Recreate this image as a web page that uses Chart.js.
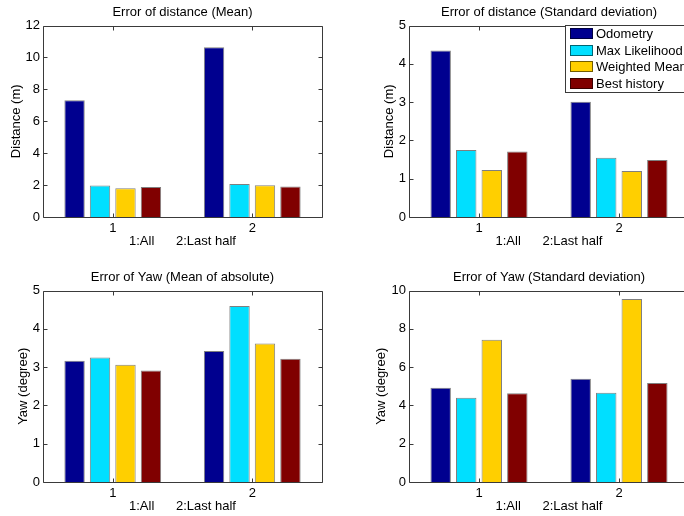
<!DOCTYPE html>
<html>
<head>
<meta charset="utf-8">
<title>Localization error</title>
<script src="https://cdn.jsdelivr.net/npm/chart.js@4.4.1/dist/chart.umd.min.js"></script>
<style>
  html, body { margin: 0; padding: 0; background: #fff; overflow: hidden; }
  #wrap { position: relative; width: 684px; height: 516px; overflow: hidden; }
  #wrap canvas { position: absolute; left: 0; top: 0; }
</style>
</head>
<body>
<div id="wrap">
  <canvas id="distMeanChart" width="700" height="516"></canvas>
  <canvas id="distStdChart" width="700" height="516"></canvas>
  <canvas id="yawMeanChart" width="700" height="516"></canvas>
  <canvas id="yawStdChart" width="700" height="516"></canvas>
</div>
<script>
// x groups and the four estimators
const groups = ['1', '2'];
const methods = ['Odometry', 'Max Likelihood', 'Weighted Mean', 'Best history'];
const methodColors = ['#00008F', '#00DFFF', '#FFCF00', '#800000'];
const xLabel = '1:All      2:Last half';

// one row per method: [all, last half]
const distMean = [[7.32, 10.64], [1.97, 2.07], [1.80, 1.99], [1.88, 1.92]];
const distStd  = [[4.35, 3.01], [1.75, 1.55], [1.23, 1.20], [1.71, 1.49]];
const yawMean  = [[3.17, 3.42], [3.25, 4.60], [3.06, 3.62], [2.91, 3.22]];
const yawStd   = [[4.92, 5.39], [4.40, 4.66], [7.43, 9.56], [4.64, 5.17]];

Chart.defaults.font.family = '"Liberation Sans", Arial, sans-serif';
Chart.defaults.font.size = 13;
Chart.defaults.color = '#000';

const CW = 700, CH = 516;   // canvas size
const yW = 40, xH = 33;     // space kept for the axes

// box around the axes with small inward ticks on every side
const axesBox = {
  id: 'axesBox',
  afterDatasetsDraw(chart) {
    const { ctx, chartArea: a, scales: { x, y } } = chart;
    const t = 4;
    const l = Math.round(a.left) + 0.5, r = Math.round(a.right) + 0.5;
    const top = Math.round(a.top) + 0.5, bot = Math.round(a.bottom) + 0.5;
    ctx.save();
    ctx.strokeStyle = '#3a3a3a';
    ctx.lineWidth = 1;
    ctx.beginPath();
    ctx.rect(l, top, r - l, bot - top);
    y.ticks.forEach((tk, i) => {
      const py = Math.round(y.getPixelForTick(i)) + 0.5;
      ctx.moveTo(l, py); ctx.lineTo(l + t, py);
      ctx.moveTo(r, py); ctx.lineTo(r - t, py);
    });
    x.ticks.forEach((tk, i) => {
      const px = Math.round(x.getPixelForTick(i)) + 0.5;
      ctx.moveTo(px, bot); ctx.lineTo(px, bot - t);
      ctx.moveTo(px, top); ctx.lineTo(px, top + t);
    });
    ctx.stroke();
    ctx.restore();
  }
};

// framed legend in the upper right corner
const boxLegend = {
  id: 'boxLegend',
  afterDraw(chart, args, opts) {
    if (!opts.display) return;
    const ctx = chart.ctx;
    const x0 = opts.x, y0 = opts.y;
    ctx.save();
    ctx.fillStyle = '#fff';
    ctx.fillRect(x0, y0, opts.width, opts.height);
    ctx.strokeStyle = '#3a3a3a';
    ctx.lineWidth = 1;
    ctx.strokeRect(x0 + 0.5, y0 + 0.5, opts.width, opts.height);
    ctx.font = '13px "Liberation Sans", Arial, sans-serif';
    ctx.textBaseline = 'middle';
    chart.data.datasets.forEach((ds, i) => {
      const y = Math.round(y0 + 3 + i * opts.rowHeight);
      ctx.fillStyle = ds.backgroundColor;
      ctx.fillRect(x0 + 5, y, 23, 11);
      ctx.strokeStyle = 'rgba(0,0,0,0.55)';
      ctx.strokeRect(x0 + 5.5, y + 0.5, 22, 10);
      ctx.fillStyle = '#000';
      ctx.fillText(ds.label, x0 + 31, y + 6);
    });
    ctx.restore();
  }
};

function makeChart(id, p) {
  const [L, T, R, B] = p.box;
  return new Chart(document.getElementById(id), {
    type: 'bar',
    data: {
      labels: groups,
      datasets: methods.map((name, i) => ({
        label: name,
        data: p.values[i],
        backgroundColor: methodColors[i],
        borderColor: 'rgba(0,0,0,0.5)',
        borderWidth: 1,
        categoryPercentage: 0.73,
        barPercentage: 0.8
      }))
    },
    options: {
      responsive: false,
      animation: false,
      events: [],
      layout: {
        padding: { left: L - yW, top: T - 21, right: CW - R, bottom: CH - B - xH }
      },
      plugins: {
        legend: { display: false },
        tooltip: { enabled: false },
        title: {
          display: true,
          text: p.title,
          fullSize: false,
          font: { size: 13, weight: 'normal' },
          padding: { top: 0, bottom: 5 }
        },
        boxLegend: p.legend || { display: false }
      },
      scales: {
        x: {
          grid: { display: false, drawTicks: false },
          border: { display: false },
          ticks: { padding: 4 },
          title: { display: true, text: xLabel, padding: { top: 0, bottom: 1 } },
          afterFit: s => { s.height = xH; }
        },
        y: {
          min: 0,
          max: p.max,
          ticks: { stepSize: p.step, padding: 3 },
          grid: { display: false, drawTicks: false },
          border: { display: false },
          title: { display: true, text: p.yLabel, padding: { top: yW - p.yLabelGap - 7.8, bottom: 0 } },
          afterFit: s => { s.width = yW; }
        }
      }
    },
    plugins: [axesBox, boxLegend]
  });
}

makeChart('distMeanChart', {
  title: 'Error of distance (Mean)', yLabel: 'Distance (m)',
  values: distMean, max: 12, step: 2,
  box: [43, 26, 322, 217], yLabelGap: 26.5
});

makeChart('distStdChart', {
  title: 'Error of distance (Standard deviation)', yLabel: 'Distance (m)',
  values: distStd, max: 5, step: 1,
  box: [409, 26, 689, 217], yLabelGap: 19.5,
  legend: { display: true, x: 565, y: 25, width: 140, height: 67, rowHeight: 16.5 }
});

makeChart('yawMeanChart', {
  title: 'Error of Yaw (Mean of absolute)', yLabel: 'Yaw (degree)',
  values: yawMean, max: 5, step: 1,
  box: [43, 291, 322, 482], yLabelGap: 20
});

makeChart('yawStdChart', {
  title: 'Error of Yaw (Standard deviation)', yLabel: 'Yaw (degree)',
  values: yawStd, max: 10, step: 2,
  box: [409, 291, 689, 482], yLabelGap: 27.5
});
</script>
</body>
</html>
